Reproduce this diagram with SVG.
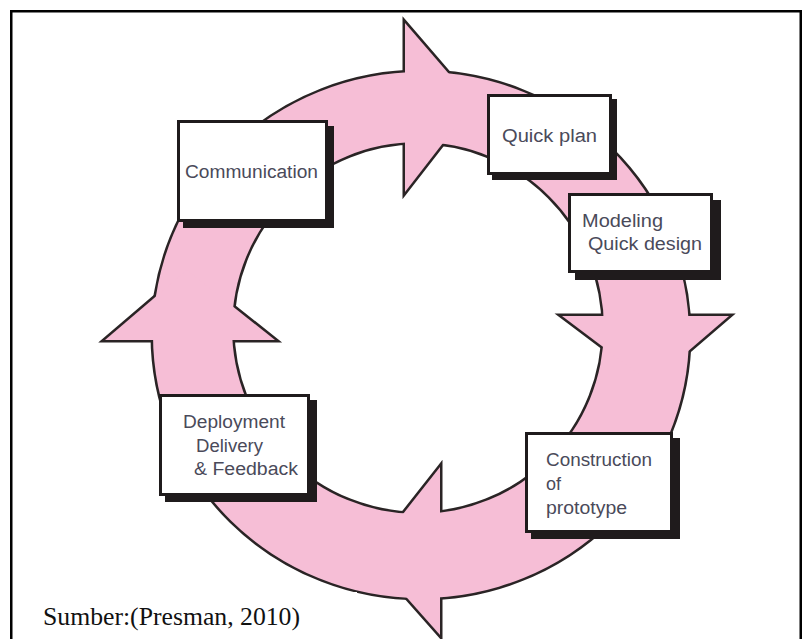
<svg xmlns="http://www.w3.org/2000/svg" width="802" height="639" viewBox="0 0 802 639">
<style>
.under{fill:#f6bed6;stroke:#2a2425;stroke-width:5;stroke-linejoin:miter;stroke-miterlimit:10}
.over{fill:#f6bed6;stroke:none}
.shadow{fill:#1f1b1c}
.box{fill:#ffffff;stroke:#1f1b1c;stroke-width:3}
.lbl{font-family:"Liberation Sans",Arial,sans-serif;font-size:18px;fill:#4a4a5a}
.src{font-family:"Liberation Serif","Times New Roman",serif;font-size:25px;fill:#111111}
</style>
<defs>
<path id="ring" fill-rule="evenodd" d="M153,335 A268,263 0 1 0 689,335 A268,263 0 1 0 153,335 Z M232,328 A186,186 0 1 0 604,328 A186,186 0 1 0 232,328 Z"/>
<polygon id="headTop" points="405,23 474,103 405,192"/>
<polygon id="headRight" points="562,316 729,316 651,383"/>
<polygon id="headBottom" points="440,467 370,556 440,635"/>
<polygon id="headLeft" points="187,270 105,340 275,340"/>
</defs>
<rect x="0" y="0" width="802" height="639" fill="#ffffff"/>
<g id="frame" fill="#000000">
<rect x="10" y="10" width="792" height="2.5"/>
<rect x="10" y="10" width="2.5" height="629"/>
<rect x="799.5" y="10" width="2.5" height="629"/>
</g>
<g id="connectors">
<g class="under">
<use href="#ring"/>
<use href="#headTop"/>
<use href="#headRight"/>
<use href="#headBottom"/>
<use href="#headLeft"/>
</g>
<g class="over">
<use href="#ring"/>
<use href="#headTop"/>
<use href="#headRight"/>
<use href="#headBottom"/>
<use href="#headLeft"/>
</g>
</g>
<rect x="13" y="592" width="344" height="47" fill="#ffffff"/>
<g id="communication">
<rect class="shadow" x="183" y="126" width="151" height="102"/>
<rect class="box" x="178.5" y="121.5" width="148" height="99"/>
<text class="lbl" x="185" y="178" textLength="133" lengthAdjust="spacingAndGlyphs">Communication</text>
</g>
<g id="quick-plan">
<rect class="shadow" x="492" y="99" width="125" height="81"/>
<rect class="box" x="488.5" y="95.5" width="122" height="78"/>
<text class="lbl" x="502" y="142" textLength="95" lengthAdjust="spacingAndGlyphs">Quick plan</text>
</g>
<g id="modeling">
<rect class="shadow" x="575" y="200" width="146" height="80"/>
<rect class="box" x="569.5" y="194.5" width="142" height="77"/>
<text class="lbl" x="582" y="227" textLength="81" lengthAdjust="spacingAndGlyphs">Modeling</text>
<text class="lbl" x="588" y="250" textLength="114" lengthAdjust="spacingAndGlyphs">Quick design</text>
</g>
<g id="construction">
<rect class="shadow" x="531" y="438" width="149" height="101"/>
<rect class="box" x="526.5" y="433.5" width="145" height="98"/>
<text class="lbl" x="546" y="466" textLength="106" lengthAdjust="spacingAndGlyphs">Construction</text>
<text class="lbl" x="546" y="490">of</text>
<text class="lbl" x="546" y="514" textLength="81" lengthAdjust="spacingAndGlyphs">prototype</text>
</g>
<g id="deployment">
<rect class="shadow" x="165" y="400" width="152" height="102"/>
<rect class="box" x="160.5" y="395.5" width="148" height="99"/>
<text class="lbl" x="183" y="428" textLength="102" lengthAdjust="spacingAndGlyphs">Deployment</text>
<text class="lbl" x="196" y="452" textLength="67" lengthAdjust="spacingAndGlyphs">Delivery</text>
<text class="lbl" x="194" y="475" textLength="104" lengthAdjust="spacingAndGlyphs">&amp; Feedback</text>
</g>
<text class="src" x="43" y="625" textLength="257" lengthAdjust="spacingAndGlyphs">Sumber:(Presman, 2010)</text>
</svg>
